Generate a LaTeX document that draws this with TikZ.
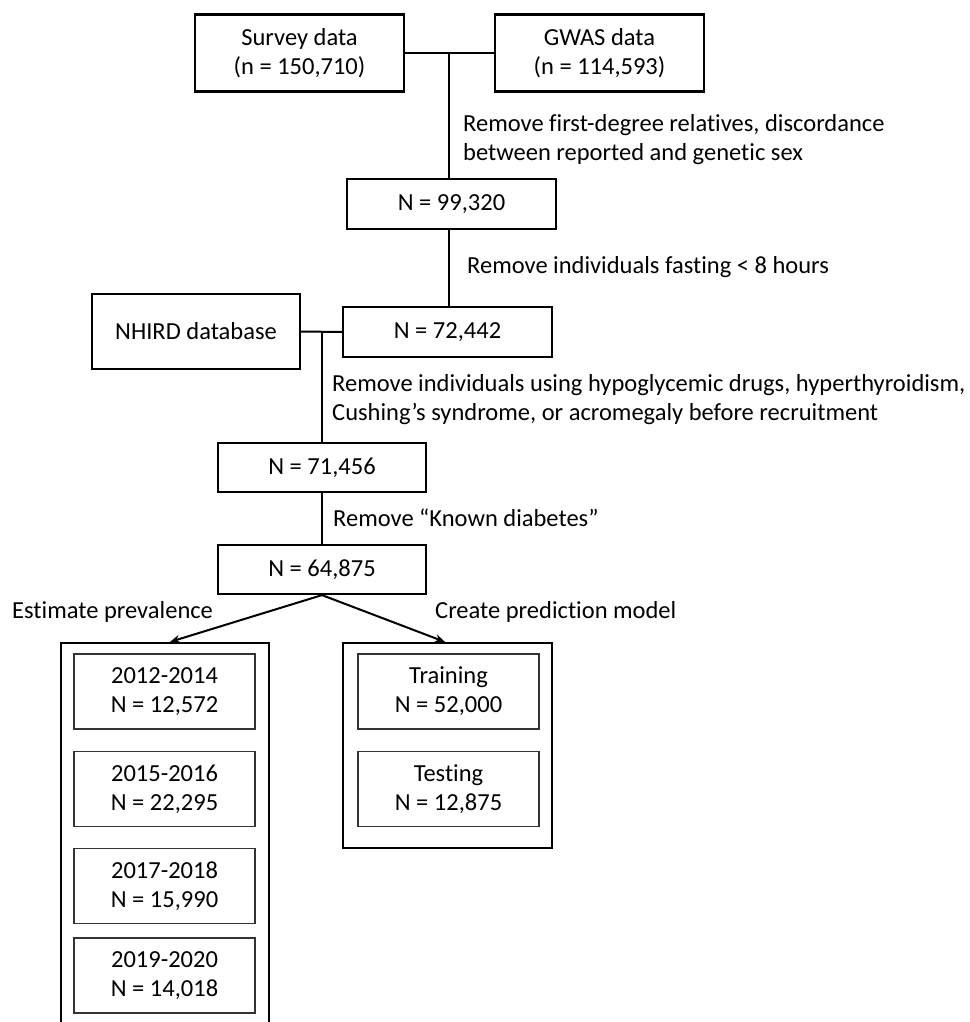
\documentclass[tikz,border=0pt]{standalone}
\usepackage{fontspec}
\setmainfont{Carlito}[RawFeature={-liga;-clig;-calt;-dlig;-rlig}]
\usetikzlibrary{arrows.meta}
\begin{document}
\begin{tikzpicture}[x=1pt,y=-1pt,
  font=\fontsize{24.5}{29}\selectfont,
  mainbox/.style={draw=black,line width=2.2pt,inner sep=0pt,align=center,minimum width=209pt},
  subbox/.style={draw=black!80,line width=1.4pt,inner sep=0pt,align=center,minimum width=181pt,minimum height=75pt},
  outerbox/.style={draw=black,line width=2.2pt,inner sep=0pt,minimum width=208pt},
  conn/.style={line width=2pt},
  arr/.style={line width=2pt,-{Stealth[length=10pt,width=8pt]}},
  lbl/.style={inner sep=0pt,anchor=west,align=left}]
\path[use as bounding box,clip] (0,0) rectangle (969,1022);
\fill[white] (0,0) rectangle (969,1022);
% top boxes
\node[mainbox,minimum height=77pt] (survey) at (299.5,53) {Survey data\\(n = 150,710)};
\node[mainbox,minimum height=77pt] (gwas) at (599.5,53) {GWAS data\\(n = 114,593)};
\node[mainbox,minimum height=50pt] (n99) at (451.5,204) {N = 99,320};
\node[mainbox,minimum height=50pt] (n72) at (447.5,332) {N = 72,442};
\node[mainbox,minimum width=208pt,minimum height=75pt] (nhird) at (196,331.5) {NHIRD database};
\node[mainbox,minimum width=208pt,minimum height=49pt] (n71) at (322,467.5) {N = 71,456};
\node[mainbox,minimum width=208pt,minimum height=49pt] (n64) at (322,569.5) {N = 64,875};
% outer group boxes
\node[outerbox,minimum height=400pt] (prev) at (165,843) {};
\node[outerbox,minimum width=209pt,minimum height=205pt] (pred) at (447.5,745.5) {};
% inner boxes
\node[subbox] (y1) at (164.5,691.5) {2012-2014\\N = 12,572};
\node[subbox] (y2) at (164.5,789) {2015-2016\\N = 22,295};
\node[subbox] (y3) at (164.5,886) {2017-2018\\N = 15,990};
\node[subbox] (y4) at (164.5,975.5) {2019-2020\\N = 14,018};
\node[subbox] (train) at (448.5,691.5) {Training\\N = 52,000};
\node[subbox] (test) at (448.5,789) {Testing\\N = 12,875};
% connectors
\coordinate (j1) at (449,53);
\coordinate (j2) at (322,332);
\draw[conn] (survey.east) -- (gwas.west);
\draw[conn] (j1) -- (j1 |- n99.north);
\draw[conn] (n99.south -| j1) -- (n72.north -| j1);
\draw[conn] (nhird.east) -- (n72.west);
\draw[conn] (j2) -- (n71.north);
\draw[conn] (n71.south) -- (n64.north);
\draw[arr] (n64.south) -- (prev.north -| 170,0);
\draw[arr] (n64.south) -- (pred.north -| 445,0);
% labels
\node[lbl] (l1) at (463,139.5) {Remove first-degree relatives, discordance\\between reported and genetic sex};
\node[lbl] (l2) at (467,267) {Remove individuals fasting < 8 hours};
\node[lbl] (l3) at (332,400) {Remove individuals using hypoglycemic drugs, hyperthyroidism,\\Cushing’s syndrome, or acromegaly before recruitment};
\node[lbl] (l4) at (333,518) {Remove “Known diabetes”};
\node[lbl] (l5) at (12,612) {Estimate prevalence};
\node[lbl] (l6) at (435,612) {Create prediction model};
\end{tikzpicture}
\end{document}
